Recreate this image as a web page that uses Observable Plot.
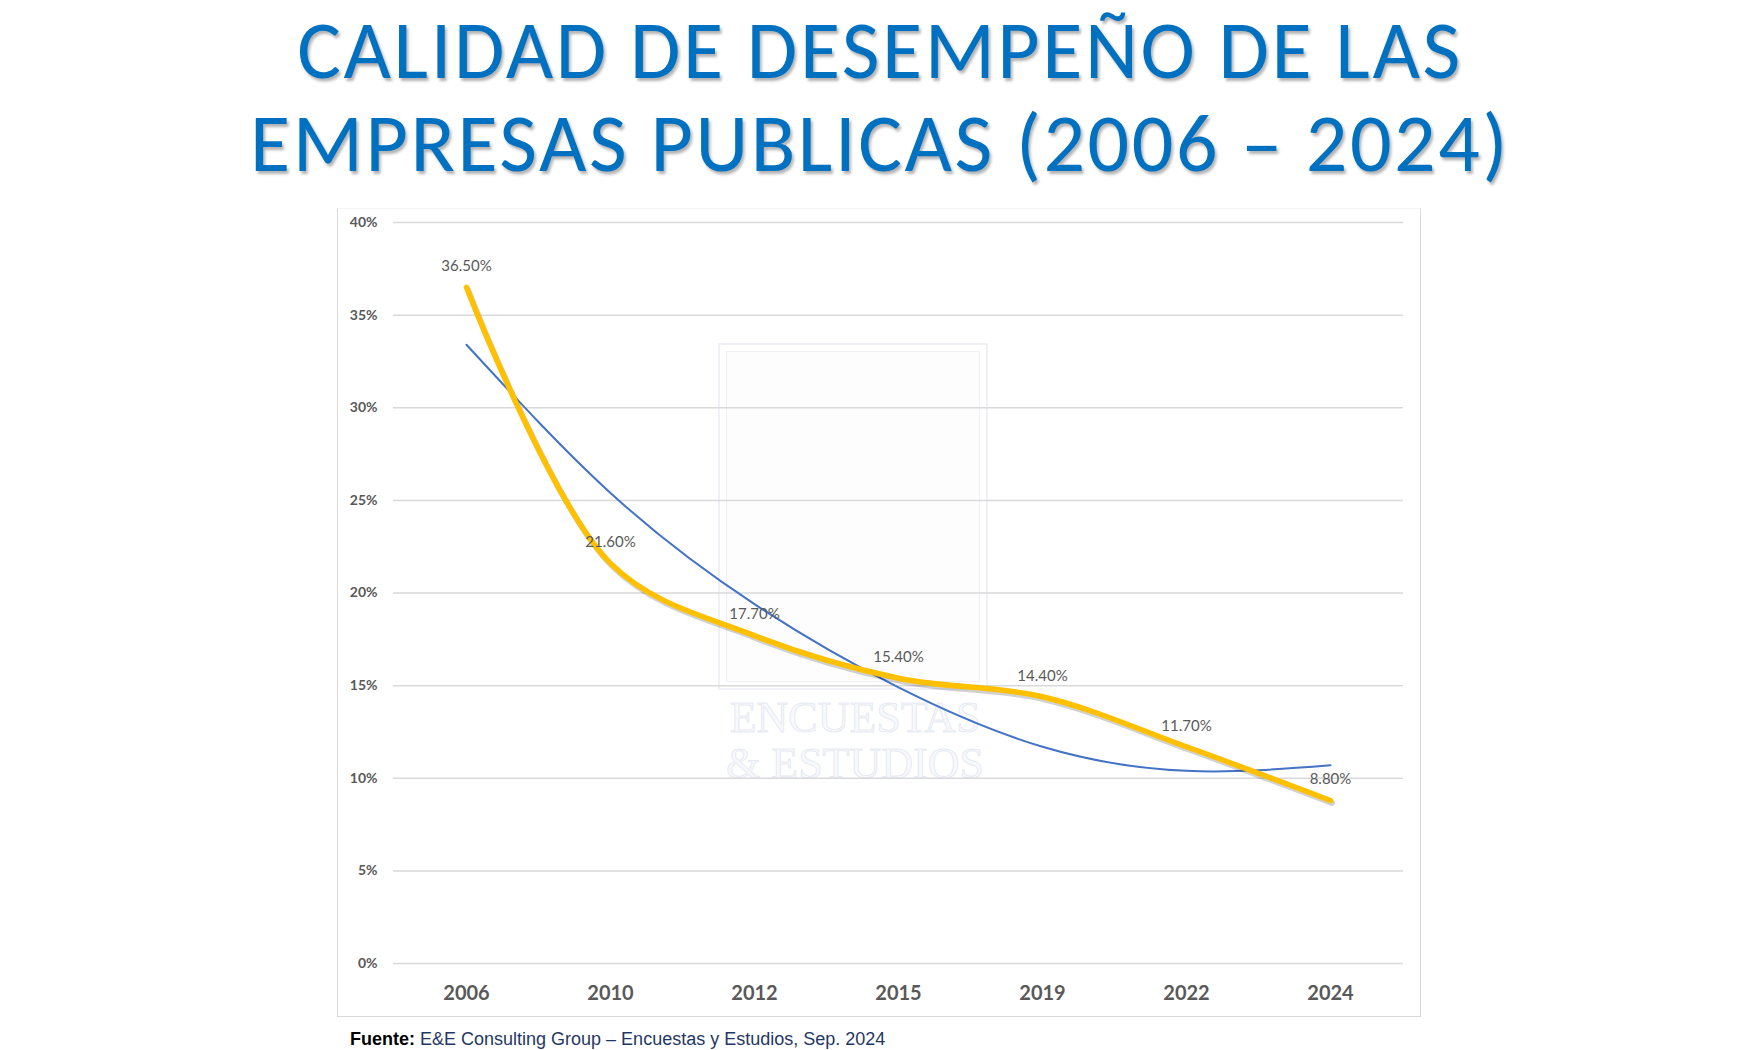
<!DOCTYPE html>
<html><head><meta charset="utf-8">
<script src="https://cdn.jsdelivr.net/npm/d3@7"></script>
<script src="https://cdn.jsdelivr.net/npm/@observablehq/plot@0.6"></script>
<style>
body{margin:0;background:#fff;width:1760px;height:1050px;position:relative;overflow:hidden;font-family:Lato,"Open Sans",sans-serif}
.t{position:absolute;left:0;width:1760px;text-align:center;color:#0070C0;font-size:82px;font-weight:400;line-height:1.2;letter-spacing:2.6px;text-shadow:2px 3px 3px rgba(0,0,0,.3);white-space:nowrap;font-family:Carlito,Calibri,Lato,sans-serif}
#l1{top:0.5px}
#l2{top:94px}
#chart{position:absolute;left:337px;top:208px;width:1084px;height:809px}
#frame{position:absolute;left:337px;top:208px;width:1084px;height:809px;box-sizing:border-box;border:1.5px solid #d9d9d9;border-top-color:#f4f4f4;pointer-events:none}
#wm{position:absolute;left:718px;top:343px;width:270px;height:347px;box-sizing:border-box;border:2px solid rgba(225,230,240,.55);pointer-events:none}
#wm .in{position:absolute;left:6px;top:6px;right:6px;bottom:6px;border:1.5px solid rgba(225,230,240,.55);background:rgba(249,249,251,.4)}
.wt{position:absolute;left:700px;width:310px;text-align:center;font-family:"Liberation Serif",serif;font-size:44px;line-height:1;color:rgba(244,246,250,.6);-webkit-text-stroke:1px rgba(215,222,236,.6);pointer-events:none}
#src{position:absolute;left:350px;top:1030px;font-family:"Liberation Sans",Arial,sans-serif;font-size:18px;line-height:1;color:#1F3864;white-space:nowrap}
#src b{color:#000}
</style></head><body>
<div class="t" id="l1">CALIDAD DE DESEMPEÑO DE LAS</div>
<div class="t" id="l2">EMPRESAS PUBLICAS (2006 – 2024)</div>
<div id="wm"><div class="in"></div></div>
<div class="wt" style="top:696px">ENCUESTAS</div>
<div class="wt" style="top:742px">&amp; ESTUDIOS</div>
<div id="chart"></div>
<div id="frame"></div>
<div id="src"><b>Fuente:</b> E&amp;E Consulting Group – Encuestas y Estudios, Sep. 2024</div>
<script>
const years = ["2006","2010","2012","2015","2019","2022","2024"];
const values = [36.5, 21.6, 17.7, 15.4, 14.4, 11.7, 8.8];
const trend = [33.4, 25.4, 19.4, 14.9, 11.7, 10.4, 10.7];
const yTicks = [0, 5, 10, 15, 20, 25, 30, 35, 40];

const data = years.map((y, i) => ({year: y, value: values[i], trend: trend[i]}));

const plot = Plot.plot({
  width: 1084,
  height: 809,
  marginLeft: 56,
  marginRight: 18,
  marginTop: 14,
  marginBottom: 54,
  style: {background: "transparent", fontFamily: "Lato, 'Open Sans', sans-serif"},
  x: {type: "point", domain: years, padding: 0.5, label: null},
  y: {domain: [0, 40], label: null},
  marks: [
    Plot.gridY(yTicks, {stroke: "#d9d9d9", strokeOpacity: 1, strokeWidth: 1.5}),
    Plot.axisY(yTicks, {tickSize: 0, tickPadding: 16, tickFormat: d => d + "%", fontSize: 14, fontWeight: "bold", fill: "#595959", label: null}),
    Plot.axisX({tickSize: 0, tickPadding: 22, fontSize: 20, fontWeight: "bold", fill: "#595959", label: null}),
    Plot.line(data, {x: "year", y: "trend", curve: "natural", stroke: "#4472C4", strokeWidth: 2}),
    Plot.line(data, {x: "year", y: "value", curve: "catmull-rom", stroke: "#000", strokeOpacity: 0.18, strokeWidth: 6, dx: 1.5, dy: 2.5}),
    Plot.line(data, {x: "year", y: "value", curve: "catmull-rom", stroke: "#FFC000", strokeWidth: 5.5}),
    Plot.text(data, {x: "year", y: "value", text: d => d.value.toFixed(2) + "%", dy: -21, fontSize: 15, fill: "#595959"})
  ]
});
document.getElementById("chart").appendChild(plot);
</script>
</body></html>
